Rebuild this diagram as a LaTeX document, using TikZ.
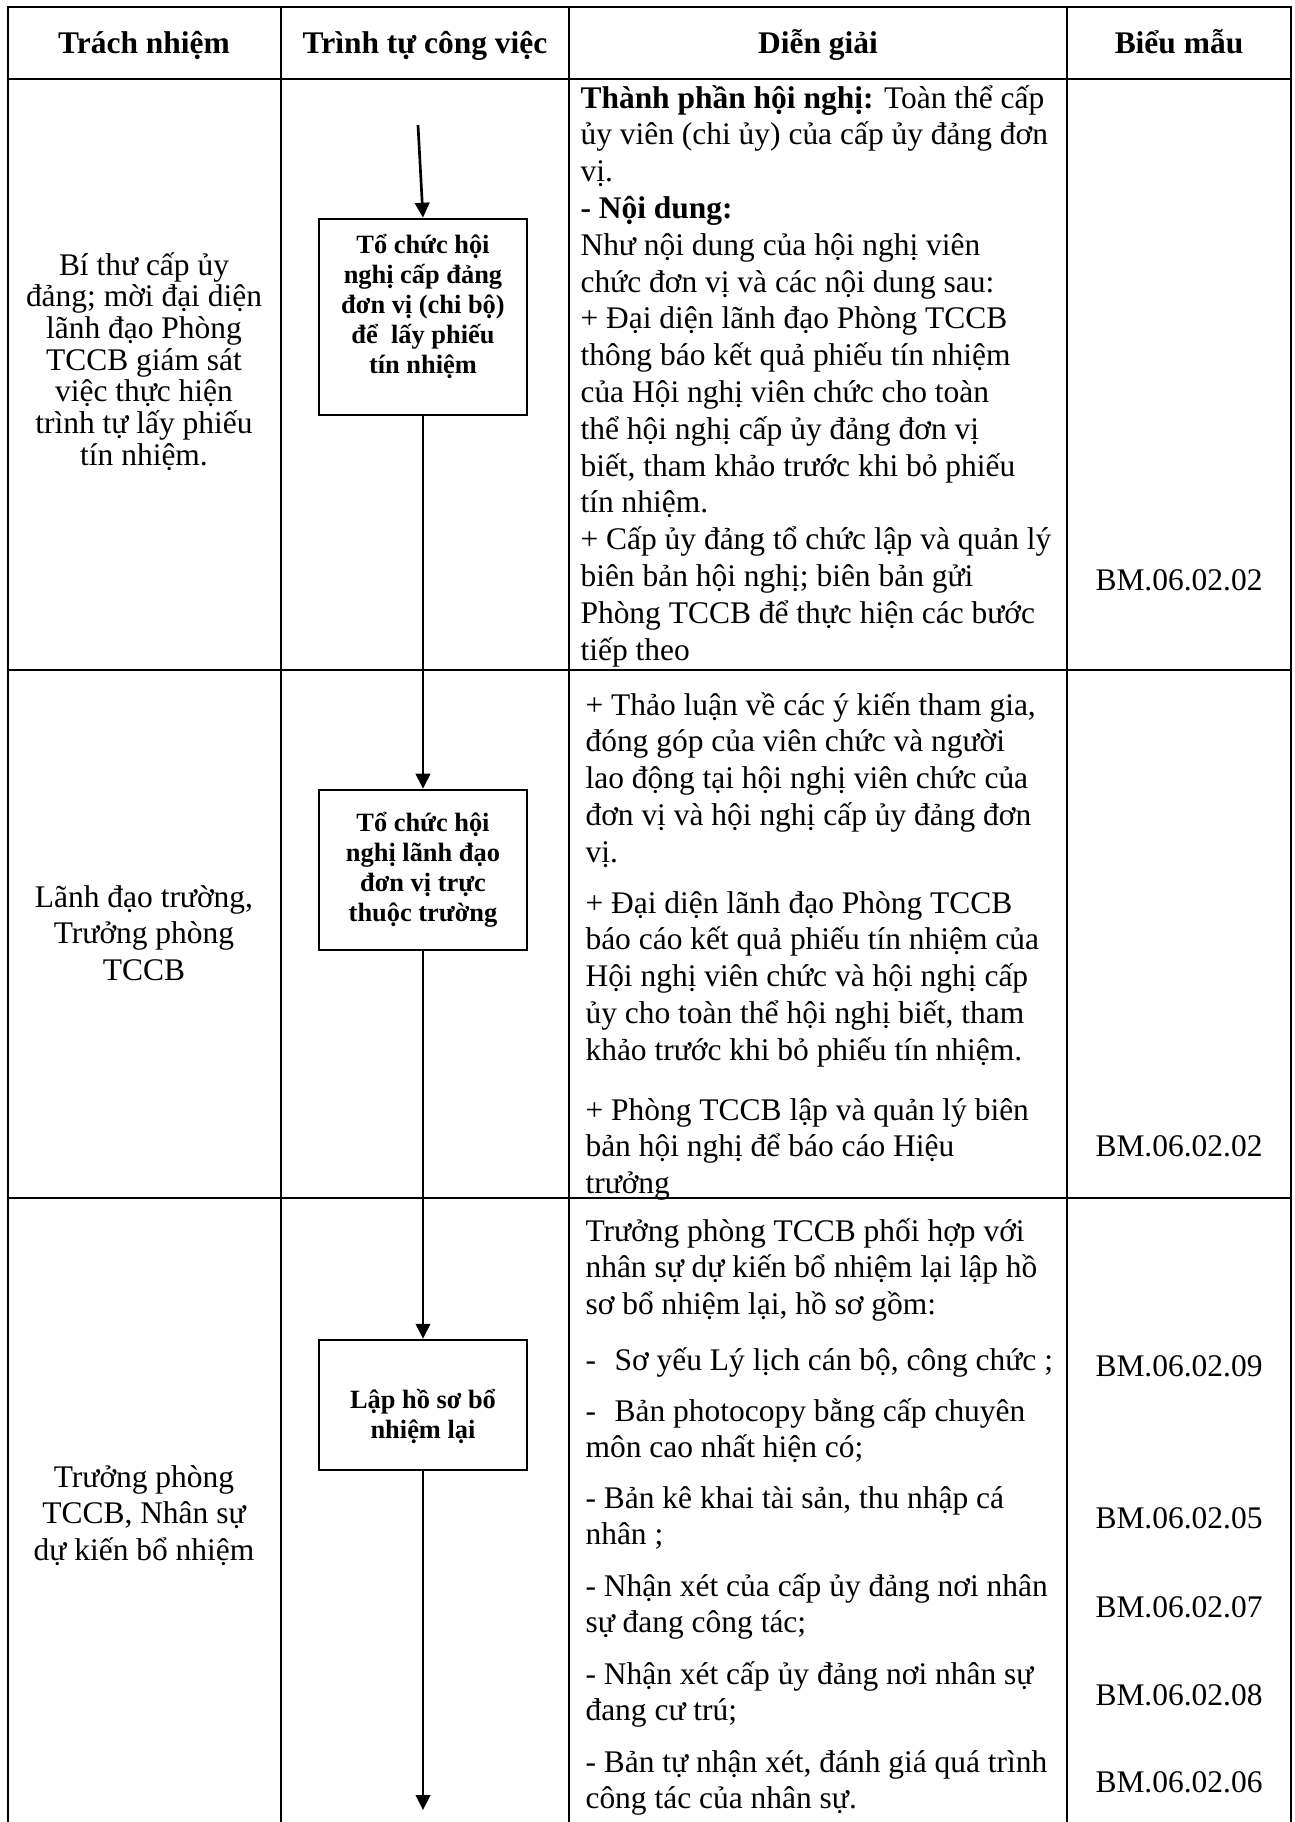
\documentclass[tikz,border=0pt]{standalone}
\usepackage{fontspec}
\setmainfont{Liberation Serif}
\usetikzlibrary{arrows.meta}

\begin{document}
\begin{tikzpicture}[x=0.375pt,y=-0.375pt,
		grid/.style={line width=1pt},
		stepbox/.style={draw,line width=1pt,inner sep=2pt,text width=74pt,align=flush center,font=\fontsize{9.9}{11.25}\selectfont\bfseries},
		flow/.style={line width=1pt,-{Triangle[length=5.6pt,width=5.4pt]}},
		head/.style={anchor=base,inner sep=0pt,font=\fontsize{11.8}{13.8}\selectfont\bfseries},
		who/.style={anchor=base,inner sep=0pt,text width=100pt,align=flush center,font=\fontsize{11.8}{13.8}\selectfont},
		para/.style={anchor=base west,inner sep=0pt,text width=186pt,align=flush left,font=\fontsize{11.8}{13.8}\selectfont},
		form/.style={inner sep=0pt,font=\fontsize{11.8}{13.8}\selectfont}]
		\useasboundingbox (0,0) rectangle (1295,1822);
		
		\draw[grid] (8,1822) -- (8,7) -- (1291,7) -- (1291,1822);
		\foreach \x in {281,569,1067} \draw[grid] (\x,7) -- (\x,1822);
		\foreach \y in {79,670,1198} \draw[grid] (8,\y) -- (1291,\y);
		
		\node[head] (h1) at (144,53) {Trách nhiệm};
		\node[head] (h2) at (425,53) {Trình tự công việc};
		\node[head] (h3) at (818,53) {Diễn giải};
		\node[head] (h4) at (1179,53) {Biểu mẫu};
		
		\node[who,font=\fontsize{11.8}{11.9}\selectfont] (w1) at (144,275) {Bí thư cấp ủy\\ đảng; mời đại diện\\ lãnh đạo Phòng\\ TCCB giám sát\\ việc thực hiện\\ trình tự lấy phiếu\\ tín nhiệm.};
		\node[who] (w2) at (144,907) {Lãnh đạo trường,\\ Trưởng phòng\\ TCCB};
		\node[who] (w3) at (144,1487) {Trưởng phòng\\ TCCB, Nhân sự\\ dự kiến bổ nhiệm};
		
		\node[stepbox,minimum height=73.5pt] (b1) at (423,317) {Tổ chức hội\\ nghị cấp đảng\\ đơn vị (chi bộ)\\ để\ \ lấy phiếu\\ tín nhiệm\rule[-10pt]{0pt}{0pt}};
		\node[stepbox,minimum height=60pt] (b2) at (423,870) {Tổ chức hội\\ nghị lãnh đạo\\ đơn vị trực\\ thuộc trường};
		\node[stepbox,minimum height=48.75pt] (b3) at (423,1405) {\rule{0pt}{15.5pt}Lập hồ sơ bổ\\ nhiệm lại};
		\coordinate (top) at (418,125);
		\coordinate (tail) at (423,1810);
		
		\draw[flow] (top) -- (b1.north);
		\draw[flow] (b1) -- (b2);
		\draw[flow] (b2) -- (b3);
		\draw[flow] (b3) -- (tail);
		
		\node[para] (d1) at (580,108) {\textbf{Thành phần hội nghị:} Toàn thể cấp\\ ủy viên (chi ủy) của cấp ủy đảng đơn\\ vị.\\ \textbf{- Nội dung:}\\ Như nội dung của hội nghị viên\\ chức đơn vị và các nội dung sau:\\ + Đại diện lãnh đạo Phòng TCCB\\ thông báo kết quả phiếu tín nhiệm\\ của Hội nghị viên chức cho toàn\\ thể hội nghị cấp ủy đảng đơn vị\\ biết, tham khảo trước khi bỏ phiếu\\ tín nhiệm.\\ + Cấp ủy đảng tổ chức lập và quản lý\\ biên bản hội nghị; biên bản gửi\\ Phòng TCCB để thực hiện các bước\\ tiếp theo};
		
		\node[para] (d2) at (585,715) {+ Thảo luận về các ý kiến tham gia,\\ đóng góp của viên chức và người\\ lao động tại hội nghị viên chức của\\ đơn vị và hội nghị cấp ủy đảng đơn\\ vị.};
		\node[para] (d3) at (585,913) {+ Đại diện lãnh đạo Phòng TCCB\\ báo cáo kết quả phiếu tín nhiệm của\\ Hội nghị viên chức và hội nghị cấp\\ ủy cho toàn thể hội nghị biết, tham\\ khảo trước khi bỏ phiếu tín nhiệm.};
		\node[para] (d4) at (585,1120) {+ Phòng TCCB lập và quản lý biên\\ bản hội nghị để báo cáo Hiệu\\ trưởng};
		
		\node[para] (d5) at (585,1241) {Trưởng phòng TCCB phối hợp với\\ nhân sự dự kiến bổ nhiệm lại lập hồ\\ sơ bổ nhiệm lại, hồ sơ gồm:};
		\node[para] (d6) at (585,1370) {-\hspace{7pt}Sơ yếu Lý lịch cán bộ, công chức ;};
		\node[para] (d7) at (585,1421) {-\hspace{7pt}Bản photocopy bằng cấp chuyên\\ môn cao nhất hiện có;};
		\node[para] (d8) at (585,1508) {- Bản kê khai tài sản, thu nhập cá\\ nhân ;};
		\node[para] (d9) at (585,1596) {- Nhận xét của cấp ủy đảng nơi nhân\\ sự đang công tác;};
		\node[para] (d10) at (585,1684) {- Nhận xét cấp ủy đảng nơi nhân sự\\ đang cư trú;};
		\node[para] (d11) at (585,1772) {- Bản tự nhận xét, đánh giá quá trình\\ công tác của nhân sự.};
		
		\node[form] (f1) at (1179,580) {BM.06.02.02};
		\node[form] (f2) at (1179,1146) {BM.06.02.02};
		\node[form] (f3) at (1179,1366) {BM.06.02.09};
		\node[form] (f4) at (1179,1518) {BM.06.02.05};
		\node[form] (f5) at (1179,1607) {BM.06.02.07};
		\node[form] (f6) at (1179,1695) {BM.06.02.08};
		\node[form] (f7) at (1179,1782) {BM.06.02.06};
\end{tikzpicture}
\end{document}
